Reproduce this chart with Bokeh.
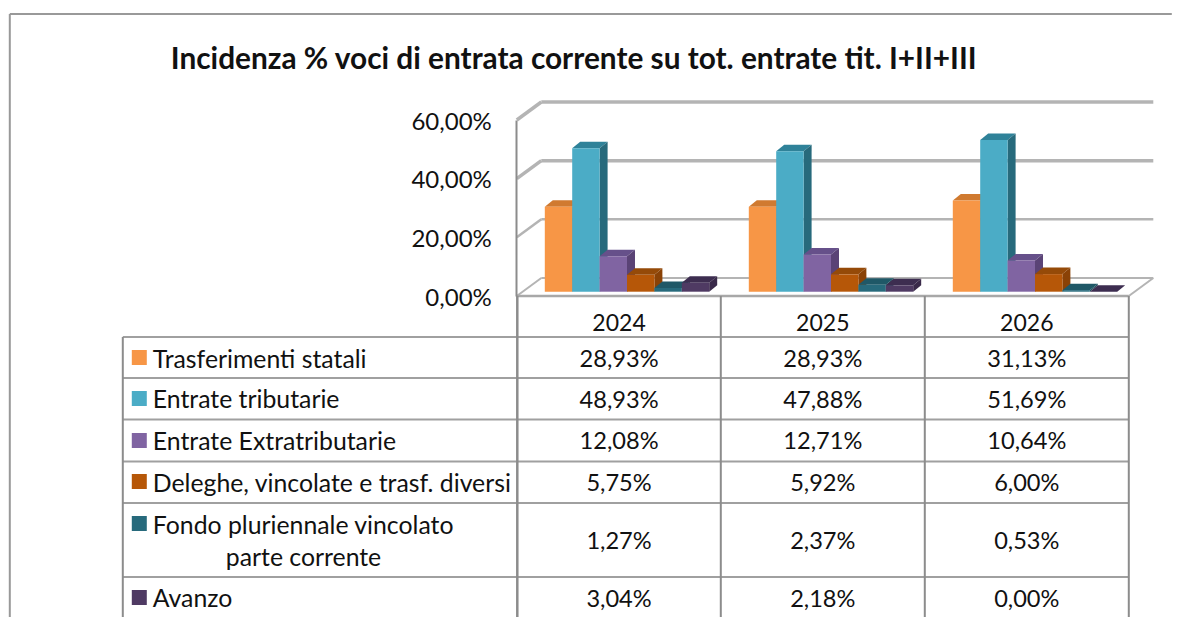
from bokeh.plotting import figure
from bokeh.models import Range1d, LinearAxis, FixedTicker
from bokeh.core.properties import value
from bokeh.embed import file_html
from bokeh.resources import INLINE

title = "Incidenza % voci di entrata corrente su tot. entrate tit. I+II+III"
years = ["2024", "2025", "2026"]
tick_values = [0, 20, 40, 60]
tick_labels = ["0,00%", "20,00%", "40,00%", "60,00%"]
names = ["Trasferimenti statali", "Entrate tributarie", "Entrate Extratributarie",
         "Deleghe, vincolate e trasf. diversi", "Fondo pluriennale vincolato", "Avanzo"]
trasferimenti = [28.93, 28.93, 31.13]
tributarie = [48.93, 47.88, 51.69]
extratributarie = [12.08, 12.71, 10.64]
deleghe = [5.75, 5.92, 6.00]
fondo = [1.27, 2.37, 0.53]
avanzo = [3.04, 2.18, 0.00]
series = [trasferimenti, tributarie, extratributarie, deleghe, fondo, avanzo]
front_colors = ["#F79646", "#4BACC6", "#8064A2", "#B65708", "#276A7C", "#4F3A63"]
side_colors = ["#C4702A", "#276A7C", "#5A4376", "#8A4206", "#1C4F5D", "#3A2A4A"]
top_colors = ["#D07A30", "#2F8299", "#66508A", "#954A08", "#1F5867", "#3D2D50"]

W, H = 1180, 617
CAT_W = 204.0
X0 = 516.3
Y0 = 295.5
K = 2.933            # pixels per percentage point
FONT = value("Lato")
GRID = "#B4B4B4"
LINE = "#8C8C8C"

p = figure(width=W, height=H, output_backend="svg", toolbar_location=None,
           x_range=Range1d(-X0 / CAT_W, (W - X0) / CAT_W),
           y_range=Range1d((Y0 - H) / K, Y0 / K),
           x_axis_location=None, y_axis_location=None,
           min_border=0, min_border_left=0, min_border_right=0,
           min_border_top=0, min_border_bottom=0, outline_line_color=None)
p.grid.visible = False
p.extra_x_ranges["px"] = Range1d(0.7, W + 0.7)
p.extra_y_ranges["px"] = Range1d(H + 0.5, 0.5)

# y axis, inside the frame at the left edge of the first category
ax = LinearAxis(ticker=FixedTicker(ticks=tick_values), fixed_location=0,
                major_label_overrides=dict(zip(tick_values, tick_labels)),
                major_tick_out=0, major_tick_in=0, minor_tick_out=0, minor_tick_in=0,
                axis_line_color=LINE, axis_line_width=2, major_label_standoff=25,
                major_label_text_font="Lato", major_label_text_font_size="24px",
                major_label_text_color="#111111")
ax.bounds = (0, 60)
p.add_layout(ax, "left")

# 3D walls
DEPTH_X = 24.5 / CAT_W
DEPTH_Y = 18.0 / K
widths = {0: 2, 20: 2.5, 40: 3.5, 60: 3.5}
for t in tick_values:
    yb = t + DEPTH_Y
    p.line([0, DEPTH_X], [t, yb], line_color=GRID, line_width=widths[t])
    p.line([DEPTH_X, 3 + DEPTH_X], [yb, yb], line_color=GRID, line_width=widths[t])
p.line([3, 3 + DEPTH_X], [0, DEPTH_Y], line_color=GRID, line_width=2)

# 3D bars
BAR_W = 27.4 / CAT_W
BAR_START = 28.0 / CAT_W
BAR_DX = 8.0 / CAT_W
BAR_DY = 6.5 / K
BASE = 4.3 / K
for s, vals in enumerate(series):
    lefts = [c + BAR_START + s * BAR_W for c in range(len(vals))]
    rights = [l + BAR_W for l in lefts]
    tops = [v + BASE for v in vals]
    p.patches([[l, r, r + BAR_DX, l + BAR_DX] for l, r in zip(lefts, rights)],
              [[t, t, t + BAR_DY, t + BAR_DY] for t in tops],
              fill_color=top_colors[s], line_color=None)
    p.patches([[r, r + BAR_DX, r + BAR_DX, r] for r in rights],
              [[BASE, BASE + BAR_DY, t + BAR_DY, t] for t in tops],
              fill_color=side_colors[s], line_color=None)
    p.quad(left=lefts, right=rights, bottom=[BASE] * len(vals), top=tops,
           fill_color=front_colors[s], line_color=None)

PX = dict(x_range_name="px", y_range_name="px")


def hline(x0, x1, y, w=2, c=LINE):
    p.line([x0, x1], [y, y], line_color=c, line_width=w, **PX)


def vline(x, y0, y1, w=2, c=LINE):
    p.line([x, x], [y0, y1], line_color=c, line_width=w, **PX)


def label(x, y, txt, align="left", size="24px", style="normal"):
    p.text([x], [y], text=[txt], text_align=align, text_baseline="middle",
           text_font=FONT, text_font_size=size, text_font_style=style,
           text_color="#111111", **PX)


# outer border
BOTTOM = H + 2
hline(10, 1172, 14, 2, "#999999")
vline(10, 14, BOTTOM, 2, "#999999")

# title
label(171, 57, title, size="29.8px", style="bold")

# data table
col_x = [517.5, 721, 925, 1129]
row_y = [337, 378, 419.5, 461.5, 503, 577]
hline(517, 1129, 296, 2.5, "#A8A8A8")
for y in row_y:
    hline(123, 1129, y, 2, "#A0A0A0")
vline(123, 337, BOTTOM)
vline(col_x[0], 296, BOTTOM, 2.5)
for x in col_x[1:]:
    vline(x, 296, BOTTOM)

row_mid = [358, 399, 440, 482, 540, 598]
name_y = [358, 398, 440, 482, 524, 597]
swatch_y = [357.5, 398.5, 440.5, 481.5, 523.5, 597.5]
for c, yr in enumerate(years):
    cx = (col_x[c] + col_x[c + 1]) / 2
    label(cx, 322, yr, align="center", size="23px")
    for vals, y in zip(series, row_mid):
        label(cx, y, f"{vals[c]:.2f}%".replace(".", ","), align="center", size="23.6px")

for nm, y, sy, col in zip(names, name_y, swatch_y, front_colors):
    label(153, y, nm, size="24.8px")
    p.quad(left=[132], right=[147], top=[sy - 7.5], bottom=[sy + 7.5],
           fill_color=col, line_color=None, **PX)
label(226, 556, "parte corrente", size="24.8px")

open("out.html", "w").write(file_html(p, INLINE))
